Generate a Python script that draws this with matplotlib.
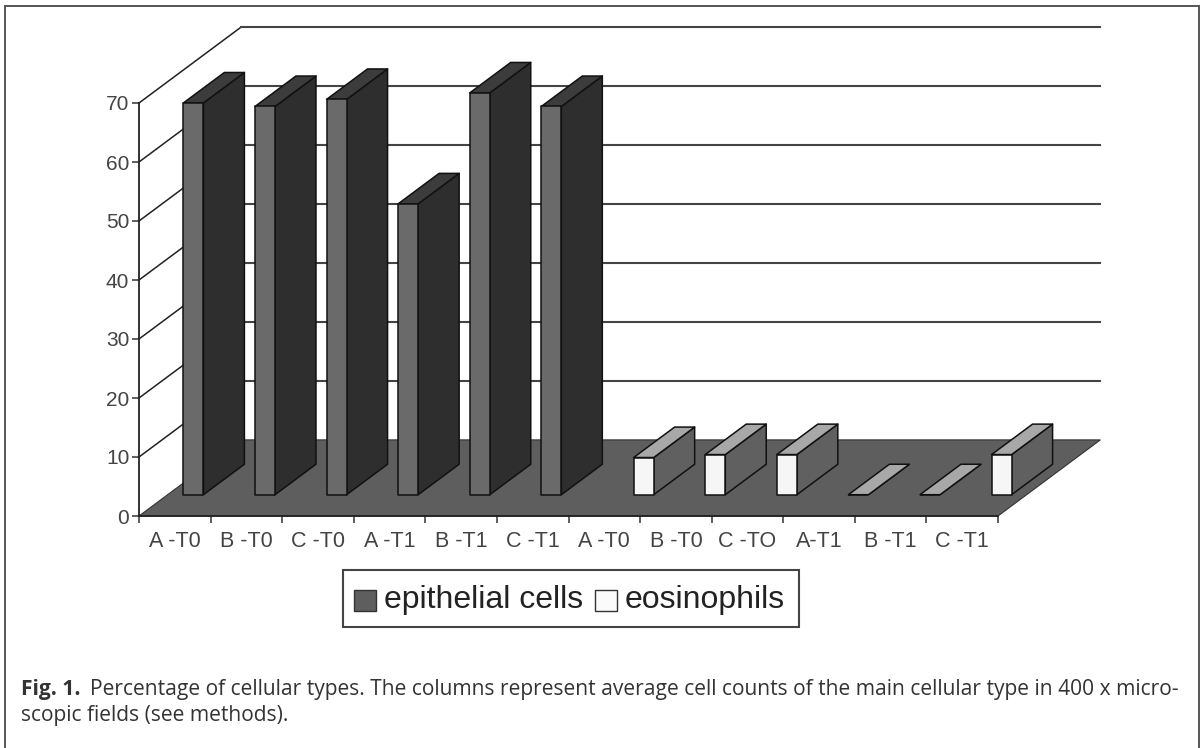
import matplotlib
matplotlib.use("Agg")
import matplotlib.pyplot as plt
from matplotlib.patches import Polygon, Rectangle

W, H = 1201, 748

labels = ["A -T0", "B -T0", "C -T0", "A -T1", "B -T1", "C -T1",
          "A -T0", "B -T0", "C -TO", "A-T1", "B -T1", "C -T1"]
epithelial = [66.4, 65.8, 67.0, 49.3, 68.1, 65.8, 0, 0, 0, 0, 0, 0]
eosinophils = [0, 0, 0, 0, 0, 0, 6.3, 6.8, 6.8, 0, 0, 6.8]
y_ticks = [0, 10, 20, 30, 40, 50, 60, 70]

# depth of the fake 3d box, in data units
DX, DY = 1.43, 12.9
BAR_W = 0.28
BAR_D = 0.4
BAR_Z = 0.28


def px_box(x0, y0, x1, y1):
    return [x0 / W, 1 - y1 / H, (x1 - x0) / W, (y1 - y0) / H]


def shift(x, y, z):
    return x + DX * z, y + DY * z


def draw_bar(ax, x0, order, val, front, top, side):
    x1 = x0 + BAR_W
    z0, z1 = BAR_Z, BAR_Z + BAR_D
    a = shift(x0, 0, z0)
    b = shift(x1, 0, z0)
    c = shift(x1, val, z0)
    d = shift(x0, val, z0)
    e = shift(x1, 0, z1)
    f = shift(x1, val, z1)
    g = shift(x0, val, z1)
    kw = dict(ec="#111111", lw=1.1, joinstyle="round", zorder=5 + order, clip_on=False)
    ax.add_patch(Polygon([b, e, f, c], fc=side, **kw))
    ax.add_patch(Polygon([d, c, f, g], fc=top, **kw))
    ax.add_patch(Polygon([a, b, c, d], fc=front, **kw))


fig = plt.figure(figsize=(W / 100, H / 100), dpi=100)
plt.rcParams["font.family"] = ["Liberation Sans", "DejaVu Sans"]

ax = fig.add_axes(px_box(139, 103, 998, 516))
ax.set_xlim(0, 12)
ax.set_ylim(0, 70)
ax.patch.set_visible(False)
for s in ["top", "right"]:
    ax.spines[s].set_visible(False)
for s in ["left", "bottom"]:
    ax.spines[s].set_linewidth(1.3)
    ax.spines[s].set_color("#222222")
    ax.spines[s].set_zorder(4)

# gridlines on the two walls
for t in y_ticks[1:]:
    ax.plot([0, DX], [t, t + DY], color="#222222", lw=1.1, clip_on=False, zorder=1)
    ax.plot([DX, 12 + DX], [t + DY, t + DY], color="#444444", lw=1.5, clip_on=False, zorder=1)

# floor
ax.add_patch(Polygon([(0, 0), (12, 0), (12 + DX, DY), (DX, DY)], fc="#5e5e5e",
                     ec="#333333", lw=0.8, clip_on=False, zorder=2))

ax.set_xticks(range(13))
ax.set_xticks([i + 0.5 for i in range(12)], minor=True)
ax.set_xticklabels([])
ax.set_xticklabels(labels, minor=True, fontsize=15.5, color="#444444")
ax.tick_params(axis="x", which="major", length=5, width=1.1, color="#333333")
ax.tick_params(axis="x", which="minor", length=0, pad=11)
ax.set_yticks(y_ticks)
ax.tick_params(axis="y", length=5, width=1.1, color="#333333", labelsize=15,
               labelcolor="#444444", pad=2)

# the two series sit side by side in each slot, only one of them is non zero
for i in range(12):
    if i < 6:
        draw_bar(ax, i + 0.22, i, epithelial[i], "#6a6a6a", "#3c3c3c", "#2e2e2e")
    else:
        draw_bar(ax, i + 0.51, i, eosinophils[i], "#f6f6f6", "#a8a8a8", "#606060")

# page overlay in pixel coordinates, for frame, legend and caption
page = fig.add_axes([0, 0, 1, 1], zorder=-1)
page.set_xlim(0, W)
page.set_ylim(H, 0)
page.axis("off")
page.add_patch(Rectangle((5, 6), 1194, 760, fc="white", ec="#555555", lw=1.4))

leg = fig.add_axes([0, 0, 1, 1], zorder=10)
leg.set_xlim(0, W)
leg.set_ylim(H, 0)
leg.axis("off")
leg.add_patch(Rectangle((343, 570), 456, 57, fc="white", ec="#444444", lw=1.5))
leg.add_patch(Rectangle((354, 590), 22, 21, fc="#5e5e5e", ec="#333333", lw=1))
leg.text(384, 600, "epithelial cells", fontsize=23, va="center", color="#222222")
leg.add_patch(Rectangle((595, 590), 22, 21, fc="#fbfbfb", ec="#333333", lw=1))
leg.text(625, 600, "eosinophils", fontsize=23, va="center", color="#222222")

cap = {"fontfamily": "Open Sans", "fontsize": 15.15, "color": "#333333", "va": "center"}
leg.text(21, 690, "Fig. 1.", fontweight="bold", **cap)
leg.text(90, 690, "Percentage of cellular types. The columns represent average cell counts of the main cellular type in 400 x micro-", **cap)
leg.text(21, 715, "scopic fields (see methods).", **cap)

fig.savefig("out.png", dpi=100)
